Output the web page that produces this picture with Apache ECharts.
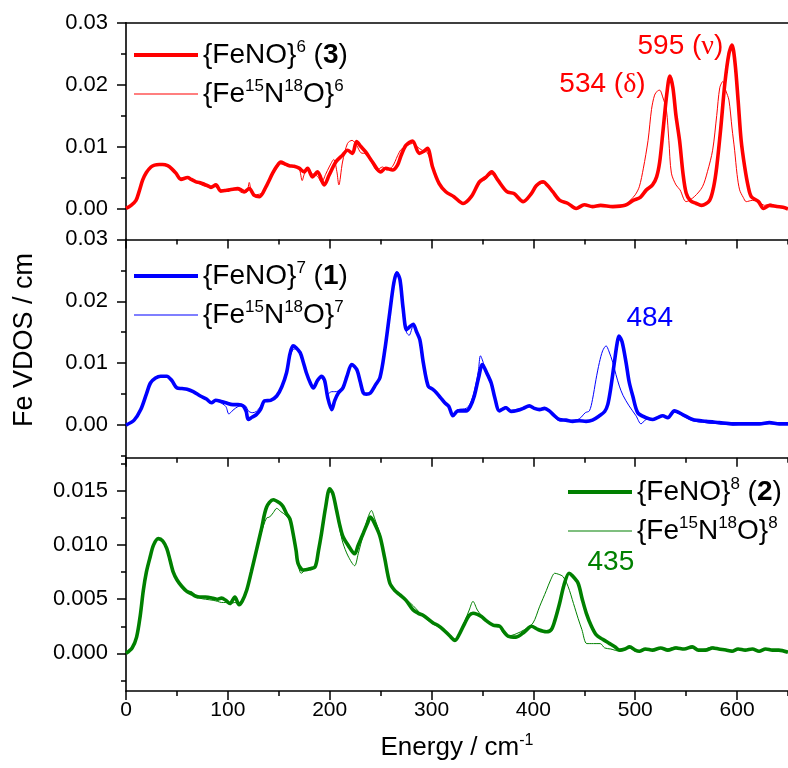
<!DOCTYPE html>
<html>
<head>
<meta charset="utf-8">
<script src="https://cdn.jsdelivr.net/npm/echarts@6/dist/echarts.min.js"></script>
<style>
  html, body { margin: 0; padding: 0; background: #fff; }
  #chart { width: 788px; height: 768px; }
</style>
</head>
<body>
<div id="chart"></div>
<script>
// Fe partial vibrational density of states, three {FeNO}^n complexes,
// natural abundance (thick) and 15N18O-labelled (thin). [energy cm-1, VDOS]
const feNO6 = [[0,0],[5,0.0005],[9.8,0.0013],[13,0.0028],[16.4,0.0046],[20,0.0058],[24.5,0.0067],[28,0.0070],[32.7,0.0071],[36,0.0071],[40.9,0.0069],[45,0.0064],[49,0.0057],[54,0.0047],[60.5,0.0050],[64,0.0047],[68.7,0.0043],[72,0.0042],[76.9,0.0039],[80,0.0037],[83.4,0.0034],[88.3,0.0038],[93,0.0028],[97,0.0029],[101.4,0.0030],[105,0.0031],[109.6,0.0032],[113,0.0030],[116,0.0027],[121,0.0032],[126,0.0021],[131,0.0019],[137.4,0.0035],[144,0.0057],[148,0.0068],[152,0.0075],[156,0.0072],[160.3,0.0069],[165,0.0068],[170,0.0065],[175,0.0059],[178.3,0.0065],[183,0.0051],[188,0.0059],[194.6,0.0038],[199.5,0.0054],[206,0.0075],[212.6,0.0086],[217.5,0.0094],[222.4,0.0089],[226.4,0.0108],[230.6,0.0100],[235.5,0.0091],[242,0.0075],[250,0.0059],[255,0.0065],[261.7,0.0062],[266.6,0.0070],[270,0.0085],[274.8,0.0102],[281.3,0.0109],[287.9,0.0089],[292,0.0092],[296,0.0097],[301,0.0067],[307.5,0.0040],[314,0.0027],[322,0.0019],[331,0.0008],[339,0.0019],[347,0.0043],[353,0.0050],[359,0.0059],[365,0.0046],[374,0.0027],[381,0.0024],[390,0.0011],[398,0.0024],[403,0.0037],[409.5,0.0043],[414,0.0037],[419,0.0027],[426,0.0013],[434,0.0008],[442,0.0000],[450,0.0006],[458,0.0003],[466,0.0005],[478,0.0003],[490,0.0005],[498,0.0013],[505,0.0018],[511,0.0030],[517,0.0038],[521,0.0051],[524,0.0075],[527,0.0121],[531,0.0185],[534,0.0214],[537,0.0195],[540,0.0150],[543.5,0.0110],[547,0.0055],[550,0.0025],[554,0.0013],[560,0.0008],[565,0.0005],[573,0.0013],[577,0.0035],[580,0.0067],[584,0.0130],[588,0.0202],[592,0.0250],[595,0.0264],[598,0.0235],[601,0.0175],[604,0.0110],[607.5,0.0067],[611,0.0035],[614,0.0019],[621,0.0011],[626,0.0000],[632,0.0005],[639,0.0003],[645,0.0002],[650,-0.0001]];

const feNO6iso = [[0,0],[5,0.0005],[9.8,0.0013],[13,0.0028],[16.4,0.0046],[20,0.0058],[24.5,0.0067],[28,0.0069],[32.7,0.0070],[36,0.0070],[40.9,0.0068],[45,0.0063],[49,0.0056],[54,0.0049],[60.5,0.0049],[64,0.0046],[68.7,0.0042],[72,0.0040],[76.9,0.0036],[80,0.0035],[83.4,0.0036],[88.3,0.0035],[93,0.0030],[97,0.0030],[101.4,0.0030],[105,0.0030],[109.6,0.0030],[113,0.0026],[116,0.0025],[119,0.0027],[121,0.0042],[123,0.0028],[126,0.0022],[131,0.0023],[135,0.0026],[137.4,0.0033],[144,0.0055],[148,0.0065],[152,0.0072],[156,0.0070],[160.3,0.0068],[165,0.0067],[170,0.0064],[173,0.0045],[175,0.0055],[178.3,0.0063],[183,0.0056],[188,0.0052],[192,0.0042],[196,0.0055],[199.5,0.0067],[204,0.0079],[207,0.0060],[209,0.0038],[212.6,0.0075],[217.5,0.0105],[222,0.0110],[226.4,0.0102],[230.6,0.0090],[235.5,0.0088],[242,0.0072],[246,0.0062],[252,0.0067],[256,0.0062],[261.7,0.0068],[266.6,0.0085],[270,0.0095],[274.8,0.0100],[281.3,0.0105],[287.9,0.0097],[292,0.0093],[296,0.0090],[301,0.0065],[307.5,0.0040],[314,0.0027],[322,0.0019],[331,0.0009],[339,0.0020],[347,0.0040],[353,0.0047],[359,0.0055],[365,0.0044],[374,0.0027],[381,0.0024],[390,0.0012],[398,0.0024],[403,0.0035],[409.5,0.0041],[414,0.0037],[419,0.0028],[426,0.0014],[434,0.0008],[442,0.0001],[450,0.0006],[458,0.0004],[466,0.0004],[478,0.0004],[490,0.0005],[495,0.0013],[500,0.0022],[504,0.0035],[508,0.0065],[512.6,0.0110],[516,0.0160],[519,0.0183],[522,0.0190],[524,0.0191],[527,0.0180],[530.6,0.0159],[533,0.0110],[535.5,0.0057],[540,0.0038],[544,0.0030],[550,0.0011],[558,0.0019],[566,0.0035],[571,0.0060],[576,0.0094],[580,0.0150],[583,0.0195],[586,0.0205],[589,0.0190],[592,0.0175],[595,0.0130],[597.6,0.0094],[600,0.0055],[602.5,0.0030],[606,0.0018],[609,0.0011],[615,0.0013],[621,0.0011],[627,0.0005],[633,0.0007],[640,0.0002],[650,0.0000]];

const feNO7 = [[0,0],[8,0.0008],[14.5,0.0025],[20,0.0050],[24,0.0068],[29,0.0076],[34,0.0079],[40,0.0079],[45,0.0072],[50,0.0060],[55,0.0059],[60,0.0058],[66,0.0054],[73,0.0047],[79,0.0042],[84,0.0036],[88,0.0040],[92,0.0039],[98,0.0036],[105,0.0033],[110,0.0033],[115,0.0031],[118,0.0022],[120,0.0009],[124,0.0013],[128,0.0017],[132,0.0025],[136,0.0039],[142,0.0040],[148,0.0047],[153,0.0062],[157.7,0.0085],[161,0.0115],[164,0.0128],[167,0.0125],[171,0.0117],[174,0.0102],[177,0.0085],[181,0.0068],[184,0.0060],[188,0.0072],[192,0.0079],[195,0.0072],[198,0.0045],[202,0.0025],[205,0.0040],[208.5,0.0052],[213,0.0060],[217,0.0079],[221.6,0.0098],[226.5,0.0090],[230,0.0070],[233,0.0052],[236,0.0050],[240,0.0052],[245,0.0065],[249.4,0.0077],[254,0.0120],[259,0.0182],[263,0.0230],[266,0.0246],[269,0.0235],[272,0.0190],[275.4,0.0154],[278,0.0158],[282,0.0163],[285,0.0152],[288.5,0.0138],[292,0.0100],[296.7,0.0063],[301,0.0058],[305,0.0052],[309,0.0044],[313,0.0036],[317,0.0030],[321,0.0015],[326,0.0023],[334,0.0023],[338,0.0030],[342,0.0047],[346,0.0075],[350,0.0098],[354,0.0085],[358.6,0.0068],[362,0.0045],[366.7,0.0023],[373,0.0028],[378,0.0022],[385,0.0024],[390,0.0027],[396,0.0031],[401,0.0027],[406,0.0025],[411,0.0027],[415.6,0.0023],[420,0.0016],[425.5,0.0009],[432,0.0008],[438.6,0.0006],[445,0.0007],[451.7,0.0006],[458,0.0008],[464.8,0.0015],[470,0.0022],[473,0.0033],[476,0.0060],[479.5,0.0101],[482,0.0130],[484,0.0144],[487,0.0135],[491,0.0101],[494,0.0070],[497.6,0.0047],[502.5,0.0020],[510.6,0.0012],[517,0.0009],[522,0.0012],[527,0.0015],[532,0.0012],[538.5,0.0023],[546.6,0.0017],[556.4,0.0009],[569.5,0.0006],[582.6,0.0004],[595.7,0.0002],[608.8,0.0002],[622,0.0002],[631.7,0.0004],[641.5,0.0002],[650,0.0002]];

const feNO7iso = [[0,0],[8,0.0008],[14.5,0.0025],[20,0.0050],[24,0.0067],[29,0.0075],[34,0.0078],[40,0.0078],[45,0.0071],[50,0.0061],[55,0.0059],[60,0.0057],[66,0.0053],[73,0.0046],[79,0.0041],[84,0.0037],[88,0.0039],[92,0.0037],[98,0.0030],[101,0.0018],[105,0.0024],[110,0.0030],[115,0.0032],[118,0.0030],[120,0.0023],[124,0.0020],[128,0.0022],[132,0.0030],[136,0.0038],[142,0.0041],[148,0.0047],[153,0.0061],[157.7,0.0083],[161,0.0110],[164,0.0122],[167,0.0123],[171,0.0116],[174,0.0101],[177,0.0085],[181,0.0069],[184,0.0062],[188,0.0071],[192,0.0076],[195,0.0068],[198,0.0050],[202,0.0054],[205,0.0054],[208.5,0.0055],[213,0.0062],[217,0.0080],[221.6,0.0097],[226.5,0.0090],[230,0.0071],[233,0.0054],[236,0.0051],[240,0.0053],[245,0.0066],[249.4,0.0078],[254,0.0122],[259,0.0185],[263,0.0233],[266,0.0248],[269,0.0233],[272,0.0180],[275.4,0.0150],[278,0.0145],[282,0.0160],[285,0.0150],[288.5,0.0135],[292,0.0098],[296.7,0.0060],[301,0.0058],[305,0.0050],[309,0.0042],[313,0.0036],[317,0.0028],[321,0.0018],[326,0.0025],[334,0.0027],[338,0.0035],[342,0.0055],[346,0.0088],[348,0.0112],[351,0.0100],[354,0.0082],[358.6,0.0065],[362,0.0043],[366.7,0.0025],[373,0.0030],[378,0.0024],[385,0.0026],[390,0.0028],[396,0.0030],[401,0.0026],[406,0.0027],[411,0.0026],[415.6,0.0021],[420,0.0014],[425.5,0.0007],[432,0.0007],[438.6,0.0008],[445,0.0010],[451,0.0020],[455,0.0023],[458,0.0041],[461.5,0.0074],[464.8,0.0101],[468,0.0120],[471.4,0.0128],[474,0.0120],[478,0.0101],[481,0.0082],[484.4,0.0063],[488,0.0048],[494,0.0031],[500.8,0.0015],[505.7,0.0002],[510.6,0.0009],[517,0.0010],[522,0.0012],[527,0.0014],[532,0.0013],[538.5,0.0021],[546.6,0.0015],[556.4,0.0007],[569.5,0.0004],[582.6,0.0002],[595.7,0.0000],[608.8,0.0002],[622,0.0001],[631.7,0.0003],[641.5,0.0002],[650,0.0003]];

const feNO8 = [[0,0],[6,0.0005],[10.4,0.0015],[14,0.0035],[17,0.0058],[20,0.0075],[23.7,0.0089],[27,0.0100],[31.7,0.0106],[36,0.0104],[40,0.0097],[43,0.0087],[46.4,0.0075],[50,0.0068],[54.7,0.0062],[60,0.0057],[64.5,0.0055],[68,0.0053],[72.5,0.0052],[78,0.0052],[85.6,0.0051],[90,0.0050],[93.8,0.0051],[98,0.0049],[102,0.0046],[106.9,0.0052],[111,0.0045],[114,0.0048],[118.4,0.0058],[123,0.0075],[128,0.0095],[133,0.0115],[138,0.0135],[144.6,0.0142],[151,0.0139],[154,0.0136],[157.7,0.0129],[161,0.0124],[164,0.0111],[167,0.0095],[169,0.0083],[174,0.0077],[180,0.0078],[185.7,0.0080],[189,0.0095],[192,0.0111],[196,0.0135],[200,0.0152],[203,0.0148],[206.8,0.0132],[210,0.0118],[213,0.0108],[218,0.0100],[224.5,0.0092],[228,0.0100],[233,0.0111],[237,0.0120],[240,0.0126],[244,0.0120],[249.4,0.0108],[254,0.0088],[259,0.0065],[264,0.0058],[269,0.0054],[275,0.0049],[282,0.0040],[287,0.0037],[292,0.0035],[301.6,0.0028],[306,0.0026],[311.5,0.0022],[318,0.0016],[323,0.0012],[328,0.0019],[332.7,0.0028],[337,0.0035],[340.7,0.0037],[345,0.0036],[349,0.0034],[354,0.0030],[360.4,0.0026],[367,0.0025],[371,0.0020],[375,0.0016],[383,0.0015],[391.4,0.0020],[398,0.0025],[404.6,0.0022],[412.7,0.0020],[417.6,0.0022],[421,0.0030],[425.7,0.0046],[430,0.0063],[435,0.0074],[438,0.0072],[443.8,0.0065],[448,0.0050],[452,0.0037],[457,0.0025],[461.8,0.0017],[468,0.0013],[474.9,0.0009],[480,0.0006],[484.7,0.0003],[490,0.0004],[494.5,0.0006],[500,0.0003],[504,0.0002],[510,0.0004],[517,0.0003],[525,0.0005],[532,0.0003],[540,0.0005],[548,0.0004],[556,0.0006],[562,0.0003],[569,0.0003],[576,0.0005],[582,0.0004],[589,0.0003],[595,0.0002],[601,0.0004],[608,0.0003],[615,0.0004],[621.6,0.0002],[628,0.0004],[634.7,0.0003],[641,0.0003],[650,0.0001]];

const feNO8iso = [[0,0],[6,0.0005],[10.4,0.0015],[14,0.0035],[17,0.0058],[20,0.0075],[23.7,0.0089],[27,0.0100],[31.7,0.0106],[36,0.0104],[40,0.0097],[43,0.0087],[46.4,0.0075],[50,0.0068],[54.7,0.0062],[60,0.0058],[64.5,0.0057],[68,0.0054],[72.5,0.0051],[78,0.0050],[85.6,0.0049],[90,0.0048],[93.8,0.0047],[98,0.0047],[102,0.0046],[106.9,0.0047],[111,0.0046],[114,0.0049],[118.4,0.0058],[123,0.0075],[128,0.0094],[133,0.0112],[138,0.0125],[141,0.0126],[144.6,0.0130],[148,0.0134],[152,0.0131],[157.6,0.0127],[161,0.0122],[164,0.0110],[167,0.0094],[169,0.0082],[172,0.0074],[176,0.0077],[180,0.0079],[185.7,0.0081],[189,0.0095],[192,0.0110],[196,0.0133],[200,0.0150],[203,0.0146],[206.8,0.0130],[210,0.0114],[213,0.0102],[218,0.0090],[224.5,0.0081],[228,0.0092],[233,0.0110],[237,0.0124],[241,0.0132],[244,0.0125],[249.4,0.0110],[254,0.0088],[259,0.0065],[264,0.0058],[269,0.0054],[275,0.0050],[282,0.0044],[287,0.0039],[292,0.0034],[301.6,0.0027],[306,0.0025],[311.5,0.0021],[318,0.0016],[323,0.0013],[328,0.0020],[332.7,0.0030],[337,0.0040],[340.7,0.0048],[345,0.0040],[349,0.0035],[354,0.0030],[360.4,0.0026],[367,0.0024],[371,0.0018],[375,0.0016],[383,0.0018],[391.4,0.0022],[399.6,0.0028],[406,0.0043],[412.7,0.0058],[417,0.0068],[421,0.0074],[425,0.0073],[429,0.0071],[434,0.0062],[439.4,0.0046],[444,0.0032],[447.6,0.0022],[452.5,0.0009],[459,0.0009],[465.6,0.0009],[470,0.0005],[476,0.0004],[484.7,0.0002],[490,0.0004],[494.5,0.0005],[500,0.0002],[504,0.0002],[510,0.0003],[517,0.0003],[525,0.0005],[532,0.0004],[540,0.0006],[548,0.0004],[556,0.0005],[562,0.0003],[569,0.0004],[576,0.0006],[582,0.0004],[589,0.0003],[595,0.0003]];

// Annotated peak energies (cm-1) for the natural-abundance spectra
const peaks6 = [534, 595];
const peak7 = 484;
const peak8 = 435;

// Axis tick values
const xMajor = [0, 100, 200, 300, 400, 500, 600];
const xMinor = [50, 150, 250, 350, 450, 550, 650];
const yMajorTop = [0, 0.01, 0.02, 0.03];
const yMinorTop = [0.005, 0.015, 0.025];
const yMinorMid = [-0.005, 0.005, 0.015, 0.025];
const yMajorBot = [0, 0.005, 0.010, 0.015];
const yMinorBot = [-0.0025, 0.0025, 0.0075, 0.0125, 0.0175];

const FONT = 'Liberation Sans, Arial, Helvetica, sans-serif';
const RED = '#ff0000', BLUE = '#0000ff', GREEN = '#008000';
const THICK = 3.6, THIN = 1;

// panel geometry in px, with each panel's value range
const panels = [
  { top: 22.7, height: 216.7, min: -0.005, max: 0.03 },
  { top: 239.4, height: 218.3, min: -0.00527, max: 0.03 },
  { top: 457.7, height: 233.3, min: -0.00348, max: 0.01808 }
];

const axisLineStyle = { color: '#000', width: 1.6 };

function peakValue(data, e) {
  return data.find(p => p[0] === e)[1];
}

const grids = panels.map(p => ({ left: 126, right: 0, top: p.top, height: p.height }));

const xAxes = [];
const xIdx = [];
panels.forEach((p, i) => {
  xIdx.push(xAxes.length);
  xAxes.push({
    type: 'value', gridIndex: i, min: 0, max: 650, position: 'bottom',
    axisLine: { onZero: false, lineStyle: axisLineStyle },
    axisTick: { inside: false, length: 9, customValues: xMajor, lineStyle: { color: '#000', width: 1.5 } },
    axisLabel: {
      show: i === 2, customValues: xMajor, margin: 9,
      color: '#000', fontFamily: FONT, fontSize: 21
    },
    splitLine: { show: false },
    name: i === 2 ? '{n|Energy / cm}{s|-1}' : '',
    nameLocation: 'middle', nameGap: 42,
    nameTextStyle: {
      rich: {
        n: { fontFamily: FONT, fontSize: 26, color: '#000', lineHeight: 30 },
        s: { fontFamily: FONT, fontSize: 16, color: '#000', verticalAlign: 'top', lineHeight: 16 }
      }
    }
  });
  xAxes.push({
    type: 'value', gridIndex: i, min: 0, max: 650, position: 'bottom',
    axisLine: { show: false, onZero: false },
    axisTick: { inside: false, length: 5, customValues: xMinor, lineStyle: { color: '#000', width: 1.5 } },
    axisLabel: { show: false }, splitLine: { show: false }
  });
});
// frame line along the top of the upper panel
xAxes.push({
  type: 'value', gridIndex: 0, min: 0, max: 650, position: 'top',
  axisLine: { onZero: false, lineStyle: axisLineStyle },
  axisTick: { show: false }, axisLabel: { show: false }, splitLine: { show: false }
});

const yMajors = [yMajorTop, yMajorTop, yMajorBot];
const yMinors = [yMinorTop, yMinorMid, yMinorBot];
const yDigits = [2, 2, 3];
const yAxes = [];
const yIdx = [];
panels.forEach((p, i) => {
  yIdx.push(yAxes.length);
  yAxes.push({
    type: 'value', gridIndex: i, min: p.min, max: p.max, position: 'left',
    axisLine: { show: true, onZero: false, lineStyle: axisLineStyle },
    axisTick: { show: true, inside: false, length: 9, customValues: yMajors[i], lineStyle: { color: '#000', width: 1.5 } },
    axisLabel: {
      customValues: yMajors[i], margin: 18, color: '#000', fontFamily: FONT, fontSize: 22,
      formatter: v => v.toFixed(yDigits[i])
    },
    splitLine: { show: false }
  });
  yAxes.push({
    type: 'value', gridIndex: i, min: p.min, max: p.max, position: 'left',
    axisLine: { show: false, onZero: false },
    axisTick: { show: true, inside: false, length: 5, customValues: yMinors[i], lineStyle: { color: '#000', width: 1.5 } },
    axisLabel: { show: false }, splitLine: { show: false }
  });
});

const labelRich = {
  t: { fontFamily: FONT, fontSize: 28, lineHeight: 32 },
  g: { fontFamily: 'Liberation Serif, Times New Roman, serif', fontSize: 28, lineHeight: 32 }
};

function peakMark(data, e, text, color, offset) {
  return {
    coord: [e, peakValue(data, e)],
    symbol: 'circle', symbolSize: 1,
    itemStyle: { color: 'rgba(0,0,0,0)' },
    label: {
      show: true, position: offset, align: 'left', verticalAlign: 'middle',
      formatter: text, color: color, rich: labelRich
    }
  };
}

function line(name, data, color, width, panel, z, marks) {
  const s = {
    name: name, type: 'line', data: data,
    xAxisIndex: xIdx[panel], yAxisIndex: yIdx[panel],
    showSymbol: false, symbol: 'none', smooth: 0.3,
    lineStyle: { color: color, width: width }, itemStyle: { color: color },
    z: z, animation: false, silent: true
  };
  if (marks) {
    s.markPoint = { silent: true, animation: false, data: marks };
  }
  return s;
}

const series = [
  line('FeNO6', feNO6, RED, THICK, 0, 2, [
    peakMark(feNO6, peaks6[0], '{t|' + peaks6[0] + ' (}{g|δ}{t|)}', RED, [-110, 9]),
    peakMark(feNO6, peaks6[1], '{t|' + peaks6[1] + ' (}{g|ν}{t|)}', RED, [-94, 2])
  ]),
  line('FeNO6iso', feNO6iso, RED, THIN, 0, 3),
  line('FeNO7', feNO7, BLUE, THICK, 1, 2, [
    peakMark(feNO7, peak7, '{t|' + peak7 + '}', BLUE, [8, -17])
  ]),
  line('FeNO7iso', feNO7iso, BLUE, THIN, 1, 3),
  line('FeNO8', feNO8, GREEN, THICK, 2, 2, [
    peakMark(feNO8, peak8, '{t|' + peak8 + '}', GREEN, [19, -10])
  ]),
  line('FeNO8iso', feNO8iso, GREEN, THIN, 2, 3)
];

// Legend entries: plain braces stay literal, {s|..} is superscript, {b|..} bold
const legendText = {
  FeNO6: '{FeNO}{s|6} ({b|3})',
  FeNO6iso: '{Fe{s|15}N{s|18}O}{s|6}',
  FeNO7: '{FeNO}{s|7} ({b|1})',
  FeNO7iso: '{Fe{s|15}N{s|18}O}{s|7}',
  FeNO8: '{FeNO}{s|8} ({b|2})',
  FeNO8iso: '{Fe{s|15}N{s|18}O}{s|8}'
};

// line samples: a 64x4 bar for the thick trace, 64x1 for the thin one
const ICON_THICK = 'path://M0,0H64V4H0Z';
const ICON_THIN = 'path://M0,0H64V1.1H0Z';

function legend(names, left, top) {
  return {
    data: [
      { name: names[0], icon: ICON_THICK },
      { name: names[1], icon: ICON_THIN }
    ],
    left: left, top: top, orient: 'vertical',
    itemWidth: 64, itemHeight: 14, itemGap: 7, padding: 0,
    symbolKeepAspect: true,
    selectedMode: false,
    formatter: n => legendText[n],
    textStyle: {
      color: '#000', fontFamily: FONT, fontSize: 28, lineHeight: 32,
      rich: {
        b: { fontFamily: FONT, fontSize: 28, lineHeight: 32, fontWeight: 'bold', color: '#000' },
        s: { fontFamily: FONT, fontSize: 17, lineHeight: 17, verticalAlign: 'top', color: '#000' }
      }
    }
  };
}

const chart = echarts.init(document.getElementById('chart'), null, { renderer: 'canvas' });
chart.setOption({
  backgroundColor: '#fff',
  animation: false,
  grid: grids,
  xAxis: xAxes,
  yAxis: yAxes,
  legend: [
    legend(['FeNO6', 'FeNO6iso'], 134, 39),
    legend(['FeNO7', 'FeNO7iso'], 134, 260),
    legend(['FeNO8', 'FeNO8iso'], 568, 476)
  ],
  graphic: [{
    type: 'text', x: 25, y: 340, rotation: Math.PI / 2,
    style: {
      text: 'Fe VDOS / cm', fontFamily: FONT, fontSize: 27, fill: '#000',
      align: 'center', verticalAlign: 'middle'
    }
  }],
  series: series
});
</script>
</body>
</html>
